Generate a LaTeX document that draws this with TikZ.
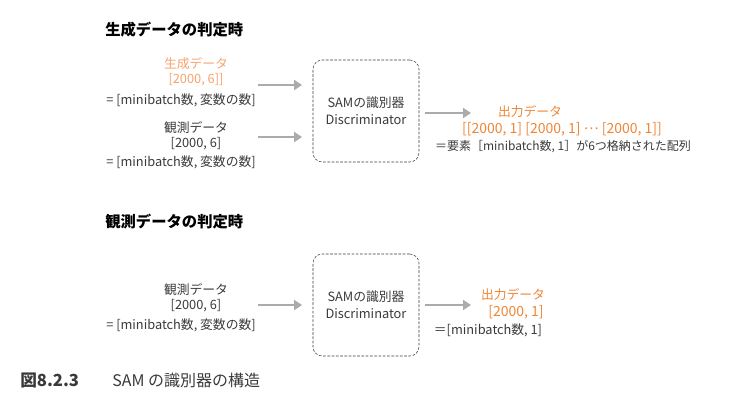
\documentclass[tikz,border=0pt]{standalone}
\usepackage{fontspec}
\setmainfont{Noto Sans CJK JP}
\usetikzlibrary{arrows.meta}
\definecolor{txtgray}{HTML}{3A3A3A}
\definecolor{lightorange}{HTML}{F5A46E}
\definecolor{outorange}{HTML}{EE8636}
\definecolor{arrgray}{HTML}{ABABAB}
\begin{document}
\begin{tikzpicture}[x=0.75pt, y=-0.75pt, every node/.style={text=txtgray, font=\fontsize{9.6}{11.5}\selectfont, inner sep=0pt},
			head/.style={anchor=west, font=\fontsize{11.5}{13}\selectfont\bfseries, text=black},
			disc/.style={draw=txtgray, dash pattern=on 2pt off 1.2pt, rounded corners=7pt, minimum width=79.5pt, minimum height=76.5pt, align=center, font=\fontsize{9.6}{13}\selectfont},
			flow/.style={draw=arrgray, line width=2.2pt, -{Triangle[length=6pt, width=7.5pt]}}]
			
			\useasboundingbox (0,0) rectangle (738,400);
			
			% generated data case
			\node[head] (t1) at (105,30) {生成データの判定時};
			\node[align=center, text=lightorange] (gen) at (196,72) {生成データ\\{}[2000, 6]]};
			\node (gen2) at (181,100) {= [minibatch数, 変数の数]};
			\node[align=center] (obs) at (196,136) {観測データ\\{}[2000, 6]};
			\node (obs2) at (181,162) {= [minibatch数, 変数の数]};
			\node[disc] (d1) at (366,111) {SAMの識別器\\Discriminator};
			\coordinate (a1) at (258,85);
			\coordinate (a2) at (258,137);
			\coordinate (a3) at (425,113);
			\coordinate (e3) at (471,113);
			\node[text=outorange] (out1) at (530,112) {出力データ};
			\node[text=outorange, font=\fontsize{10.5}{12}\selectfont] (out2) at (562,129) {[[2000, 1] [2000, 1] \raisebox{0.3em}{…} [2000, 1]]};
			\node[font=\fontsize{9}{11}\selectfont] (out3) at (563,147) {＝要素［minibatch数, 1］が6つ格納された配列};
			
			\draw[flow] (a1) -- (a1 -| d1.west) [shorten >=8pt];
			\draw[flow] (a2) -- (a2 -| d1.west) [shorten >=8pt];
			\draw[flow] (a3) -- (e3);
			
			% observed data case
			\node[head] (t2) at (105,222) {観測データの判定時};
			\node[align=center] (obs3) at (196,298) {観測データ\\{}[2000, 6]};
			\node (obs4) at (181,325) {= [minibatch数, 変数の数]};
			\node[disc] (d2) at (366,305) {SAMの識別器\\Discriminator};
			\coordinate (a4) at (258,305);
			\coordinate (a5) at (425,305);
			\coordinate (e5) at (471,305);
			\node[text=outorange] (out4) at (513,295) {出力データ};
			\node[text=outorange, font=\fontsize{10.5}{12}\selectfont] (out5) at (516,312) {[2000, 1]};
			\node (out6) at (488,330) {＝[minibatch数, 1]};
			
			\draw[flow] (a4) -- (a4 -| d2.west) [shorten >=8pt];
			\draw[flow] (a5) -- (e5);
			
			% caption
			\node[anchor=west, font=\fontsize{12.5}{14}\selectfont\bfseries] (fig) at (20,380) {図8.2.3};
			\node[anchor=west, font=\fontsize{12}{14}\selectfont] (cap) at (112,380) {SAM の識別器の構造};
		\end{tikzpicture}
\end{document}
